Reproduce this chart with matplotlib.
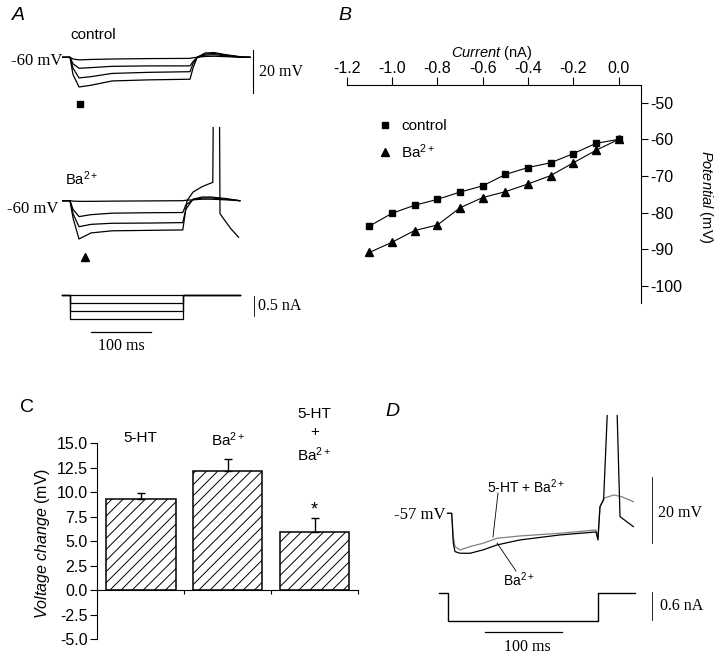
import matplotlib
matplotlib.use('Agg')
import matplotlib.pyplot as plt
from matplotlib.lines import Line2D
from matplotlib.ticker import MultipleLocator, FormatStrFormatter

plt.rcParams['font.family'] = ['Liberation Sans', 'DejaVu Sans']
plt.rcParams['axes.unicode_minus'] = False
plt.rcParams['mathtext.fontset'] = 'custom'
plt.rcParams['mathtext.rm'] = 'Liberation Sans'
plt.rcParams['mathtext.it'] = 'Liberation Sans:italic'
plt.rcParams['hatch.linewidth'] = 0.7

W, H = 720, 657

# ---------------- panel A: voltage responses (ms, mV) ----------------
t_ctrl = [-12, 0, 5, 15, 35, 70, 130, 200, 205, 212, 225, 240, 260, 285, 300]
ctrl_1 = [-60, -60, -60.8, -61.2, -61.0, -60.8, -60.6, -60.5, -60.2, -60.0, -59.6, -59.5, -59.7, -60.0, -60.0]
ctrl_2 = [-60, -60, -63.0, -65.1, -64.8, -64.2, -64.0, -64.0, -62.0, -60.0, -59.0, -58.8, -59.3, -60.0, -60.0]
ctrl_3 = [-60, -60, -65.0, -69.6, -69.0, -67.5, -67.0, -66.7, -63.0, -60.0, -58.5, -58.2, -59.0, -59.8, -60.0]
ctrl_4 = [-60, -60, -68.0, -73.8, -73.0, -71.0, -70.5, -70.2, -65.0, -60.0, -58.0, -57.8, -58.8, -59.8, -60.0]

t_ba = [-12, 0, 5, 15, 35, 70, 130, 188, 193, 205, 220, 235, 260, 283]
ba_1 = [-60, -60, -60.2, -60.3, -60.3, -60.2, -60.1, -60.0, -59.8, -59.6, -59.3, -59.3, -59.6, -60.0]
ba_2 = [-60, -60, -64.0, -67.4, -66.5, -65.8, -65.6, -65.5, -62.0, -59.5, -58.8, -58.7, -59.3, -60.0]
ba_3 = [-60, -60, -66.0, -72.1, -71.0, -70.5, -70.4, -70.2, -64.0, -59.3, -58.3, -58.3, -59.0, -60.0]
t_ba_spike = [-12, 0, 5, 15, 35, 70, 130, 188, 195, 205, 220, 233, 238, 239, 249, 250, 255, 268, 281]
ba_4 = [-60, -60, -68.0, -77.8, -75.0, -74.0, -73.8, -73.6, -60.0, -56.0, -53.5, -52.0, -51.5, -10.0, -10.0, -66.0, -68.0, -73.0, -77.0]

t_stim_a = [-14, 0, 0, 188, 188, 283]
stim_levels_a = [0.0, -0.2, -0.4, -0.6]

# ---------------- panel B: I-V relation ----------------
current_nA = [-1.1, -1.0, -0.9, -0.8, -0.7, -0.6, -0.5, -0.4, -0.3, -0.2, -0.1, 0.0]
v_control = [-83.7, -80.2, -78.0, -76.4, -74.4, -72.7, -69.6, -67.7, -66.4, -63.9, -61.1, -60.0]
v_ba = [-90.9, -88.1, -84.9, -83.4, -78.7, -75.9, -74.3, -72.2, -69.9, -66.4, -63.0, -60.0]

# ---------------- panel C: voltage change ----------------
bar_labels = ['5-HT', 'Ba$^{2+}$', '5-HT\n+\nBa$^{2+}$']
bar_means = [9.3, 12.2, 5.9]
bar_sem = [0.6, 1.2, 1.5]

# ---------------- panel D: traces (ms, mV) ----------------
t_d_ba = [-1, 4.4, 6.5, 8.7, 15.2, 28.2, 45, 63.2, 93, 145, 191.8, 194.4, 197, 201.7, 208.7, 217.8, 223, 240.3]
v_d_ba = [-57, -57, -66, -68.5, -69, -69, -68, -66.5, -65, -63.5, -62.6, -65, -55, -53, -15, -15, -58, -61]
t_d_ht = [-1, 4.4, 6.5, 8.7, 15.2, 28.2, 45, 63.2, 93, 145, 191.8, 194.4, 197, 201.7, 215, 225, 240.3]
v_d_ht = [-57, -57, -64, -67, -68, -67, -66, -64.5, -63.8, -63, -62, -64, -55, -52.5, -51.5, -52, -53.5]
t_stim_d = [-11.7, 0, 0, 195, 195, 242.5]
i_stim_d = [0, 0, -0.6, -0.6, 0, 0]


fig = plt.figure(figsize=(W / 100, H / 100), dpi=100)


def px_axes(x0, y0, x1, y1):
    ax = fig.add_axes([x0 / W, 1 - y1 / H, (x1 - x0) / W, (y1 - y0) / H])
    return ax


def scaled_axes(box, x_ref, t_ref, px_x, y_ref, v_ref, px_y):
    # axes whose data units map to a fixed number of pixels
    x0, y0, x1, y1 = box
    ax = px_axes(*box)
    ax.set_xlim(t_ref + (x0 - x_ref) / px_x, t_ref + (x1 - x_ref) / px_x)
    ax.set_ylim(v_ref - (y1 - y_ref) / px_y, v_ref + (y_ref - y0) / px_y)
    ax.axis('off')
    return ax


def ftext(x, y, s, **kw):
    return fig.text(x / W, 1 - y / H, s, **kw)


serif = dict(family='Liberation Serif', fontsize=11.5)

# ---- A, control
ax_a1 = scaled_axes((55, 40, 320, 112), 70, 0, 0.6, 57.3, -60, 2.15)
for v in [ctrl_1, ctrl_2, ctrl_3, ctrl_4]:
    ax_a1.plot(t_ctrl, v, color='k', lw=0.9)
ax_a1.plot([305, 305], [-56.6, -76.6], color='k', lw=0.8, clip_on=False)
ax_a1.plot([16.7], [-81.7], marker='s', color='k', ms=5, clip_on=False)
ftext(70, 35, 'control', fontsize=11, va='center')
ftext(62, 61, '-60 mV', ha='right', va='center', family='Liberation Serif', fontsize=12)
ftext(259, 72, '20 mV', va='center', **serif)

# ---- A, Ba2+
ax_a2 = scaled_axes((55, 127, 320, 262), 70, 0, 0.6, 200.7, -60, 2.15)
for v in [ba_1, ba_2, ba_3]:
    ax_a2.plot(t_ba, v, color='k', lw=0.9)
ax_a2.plot(t_ba_spike, ba_4, color='k', lw=0.9)
ax_a2.plot([25], [-86.4], marker='^', color='k', ms=6, clip_on=False)
ftext(65, 179, 'Ba$^{2+}$', fontsize=10.5, va='center')
ftext(58, 209, '-60 mV', ha='right', va='center', family='Liberation Serif', fontsize=12)

# ---- A, current steps
ax_a3 = scaled_axes((55, 285, 320, 360), 70, 0, 0.6, 295, 0, 40)
for lvl in stim_levels_a:
    ax_a3.plot(t_stim_a, [0, 0, lvl, lvl, 0, 0], color='k', lw=0.9)
ax_a3.plot([306.7, 306.7], [-0.02, -0.52], color='k', lw=0.6)
ax_a3.plot([34.5, 134.5], [-0.93, -0.93], color='k', lw=0.9)
ftext(258, 306, '0.5 nA', va='center', **serif)
ftext(121.7, 346, '100 ms', ha='center', va='center', **serif)

# ---- B
axB = px_axes(346.7, 85.5, 640.7, 303)
axB.plot(current_nA, v_control, color='k', lw=0.8, marker='s', ms=5)
axB.plot(current_nA, v_ba, color='k', lw=0.8, marker='^', ms=6)
axB.set_xlim(-1.2, 0.097)
axB.set_ylim(-104.7, -45.3)
axB.spines['left'].set_visible(False)
axB.spines['bottom'].set_visible(False)
axB.xaxis.tick_top()
axB.yaxis.tick_right()
axB.xaxis.set_major_locator(MultipleLocator(0.2))
axB.xaxis.set_major_formatter(FormatStrFormatter('%.1f'))
axB.yaxis.set_major_locator(MultipleLocator(10))
axB.yaxis.set_major_formatter(FormatStrFormatter('%d'))
axB.tick_params(axis='x', direction='out', length=6, width=0.8, labelsize=11.5, pad=0.5)
axB.tick_params(axis='y', direction='out', length=5, width=0.8, labelsize=11.5, pad=2)
ftext(492, 53, r'$\it{Current}$ (nA)', ha='center', va='center', fontsize=10.5)
ftext(706, 197, r'$\it{Potential}$ (mV)', ha='center', va='center', rotation=270, fontsize=10.5)
handles = [Line2D([], [], ls='none', marker='s', color='k', ms=5),
           Line2D([], [], ls='none', marker='^', color='k', ms=6)]
axB.legend(handles, ['control', 'Ba$^{2+}$'], loc='upper left',
           bbox_to_anchor=(377 / W, 1 - 119 / H), bbox_transform=fig.transFigure,
           frameon=False, fontsize=11, handlelength=1.0, handletextpad=0.6,
           labelspacing=0.6, borderpad=0, borderaxespad=0)

# ---- C
axC = px_axes(97.3, 443.3, 358, 639.3)
xpos = range(len(bar_means))
axC.bar(xpos, bar_means, width=0.8, color='white', edgecolor='k', hatch='///', lw=1.1)
axC.errorbar(xpos, bar_means, yerr=[[0] * len(bar_sem), bar_sem], fmt='none',
             ecolor='k', elinewidth=1.0, capsize=3, capthick=1.0)
axC.set_xlim(-0.5, 2.5)
axC.set_ylim(-5, 15)
axC.spines['top'].set_visible(False)
axC.spines['right'].set_visible(False)
axC.spines['bottom'].set_position(('data', 0))
axC.set_xticks([0.5, 1.5, 2.5])
axC.set_xticklabels([])
axC.tick_params(axis='x', direction='out', length=3, width=0.8)
axC.yaxis.set_major_locator(MultipleLocator(2.5))
axC.yaxis.set_major_formatter(FormatStrFormatter('%.1f'))
axC.tick_params(axis='y', direction='out', length=5, width=0.8, labelsize=11.5, pad=2)
label_bottom = [14.8, 14.4, 12.9]
for i, lab in enumerate(bar_labels):
    axC.text(i, label_bottom[i], lab, ha='center', va='bottom', fontsize=11,
             linespacing=1.4)
axC.text(2, 7.7, '*', ha='center', va='baseline', fontsize=13)
ftext(43, 543, r'$\it{Voltage\ change}$ (mV)', ha='center', va='center',
      rotation=90, fontsize=11.5)

# ---- D, voltage
ax_d1 = scaled_axes((440, 415, 720, 575), 448.3, 0, 0.77, 513.3, -57, 3.33)
ax_d1.plot(t_d_ht, v_d_ht, color='0.5', lw=0.9)
ax_d1.plot(t_d_ba, v_d_ba, color='k', lw=0.9)
ax_d1.plot([264.5, 264.5], [-46, -66], color='k', lw=0.6)
ftext(446, 515, '-57 mV', ha='right', va='center', family='Liberation Serif', fontsize=12)
ftext(658, 513, '20 mV', va='center', **serif)
ftext(526, 487, '5-HT + Ba$^{2+}$', ha='center', va='center', fontsize=10)
ftext(519, 580, 'Ba$^{2+}$', ha='center', va='center', fontsize=10)
fig.add_artist(Line2D([498 / W, 493 / W], [1 - 493 / H, 1 - 537 / H], color='k', lw=0.6))
fig.add_artist(Line2D([497 / W, 516 / W], [1 - 543 / H, 1 - 571 / H], color='k', lw=0.6))

# ---- D, current
ax_d2 = scaled_axes((430, 585, 720, 657), 448.3, 0, 0.77, 593, 0, 47)
ax_d2.plot(t_stim_d, i_stim_d, color='k', lw=1.0)
ax_d2.plot([264.5, 264.5], [0.02, -0.58], color='k', lw=0.6)
ax_d2.plot([47.7, 147.7], [-0.83, -0.83], color='k', lw=0.9)
ftext(660, 606, '0.6 nA', va='center', **serif)
ftext(527, 647, '100 ms', ha='center', va='center', **serif)

# ---- panel letters
ftext(12, 16, 'A', fontsize=14, style='italic', va='center')
ftext(338, 15, 'B', fontsize=14, style='italic', va='center')
ftext(20, 407, 'C', fontsize=14, va='center')
ftext(385, 412, 'D', fontsize=14, style='italic', va='center')

fig.savefig('out.png', dpi=100)
